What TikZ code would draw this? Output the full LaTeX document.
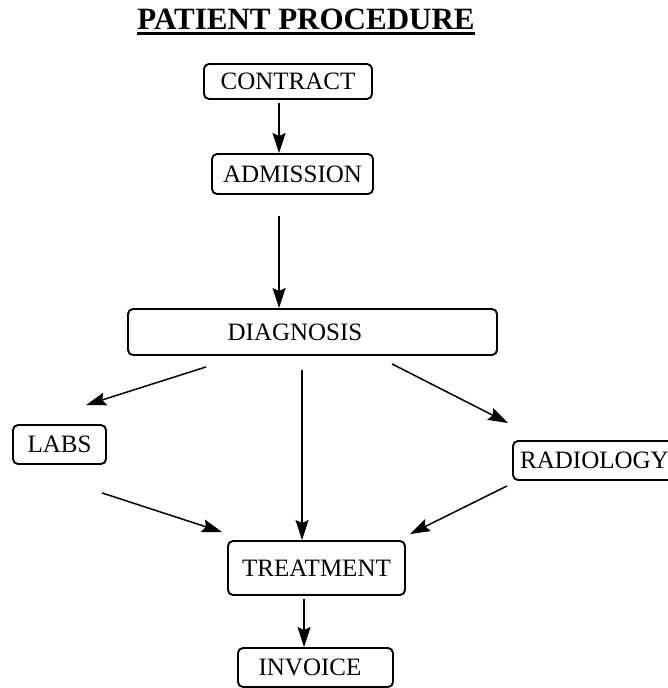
\documentclass[tikz,border=0pt]{standalone}
\usepackage{fontspec}
\setmainfont{Liberation Serif}
\usetikzlibrary{arrows.meta,calc}
\begin{document}
\begin{tikzpicture}[x=1pt,y=-1pt,
  box/.style={draw,line width=1.9pt,rounded corners=5pt,inner sep=0pt,
    font=\fontsize{25}{30}\selectfont},
  arr/.style={line width=1.5pt,-{Stealth[length=20pt,width=13pt,inset=3pt]}}]
\useasboundingbox (0,0) rectangle (668,688);
% title
\node[anchor=base,inner sep=0pt,font=\fontsize{31}{36}\selectfont\bfseries] (title) at (306,29) {PATIENT PROCEDURE};
\draw[line width=2.2pt] ($(title.base west)+(0,4.5)$) -- ($(title.base east)+(0,4.5)$);
% boxes
\node[box,minimum width=168,minimum height=35] (contract) at (288,81.5) {CONTRACT};
\node[box,minimum width=161,minimum height=40] (admission) at (292.5,174) {ADMISSION};
\node[box,minimum width=369,minimum height=46] (diag) at (312.5,332) {\hspace*{-35pt}DIAGNOSIS};
\node[box,minimum width=93,minimum height=39] (labs) at (59.5,444.5) {LABS};
\node[box,minimum width=163,minimum height=39] (rad) at (594.5,460.5) {RADIOLOGY};
\node[box,minimum width=177,minimum height=54] (treat) at (316.5,568) {TREATMENT};
\node[box,minimum width=155,minimum height=39] (invoice) at (315.5,667.5) {\hspace*{-11pt}INVOICE};
% connectors
\draw[arr] ($(contract.south west)+(76,3)$) -- ($(admission.north west)+(68,0)$);
\draw[arr] ($(admission.south west)+(68,21)$) -- ($(diag.north west)+(152,0)$);
\draw[arr] ($(diag.south west)+(79,11)$) -- ($(labs.north west)+(74,-19)$);
\draw[arr] ($(diag.south west)+(175,14)$) -- ($(treat.north west)+(75,0)$);
\draw[arr] ($(diag.south west)+(265,8)$) -- ($(rad.north west)+(-4,-17)$);
\draw[arr] ($(labs.south west)+(90,28)$) -- ($(treat.north west)+(-5,-8)$);
\draw[arr] ($(rad.south west)+(-5,5)$) -- ($(treat.north east)+(4,-6)$);
\draw[arr] ($(treat.south west)+(77,3)$) -- ($(invoice.north west)+(67,0)$);
\end{tikzpicture}
\end{document}
